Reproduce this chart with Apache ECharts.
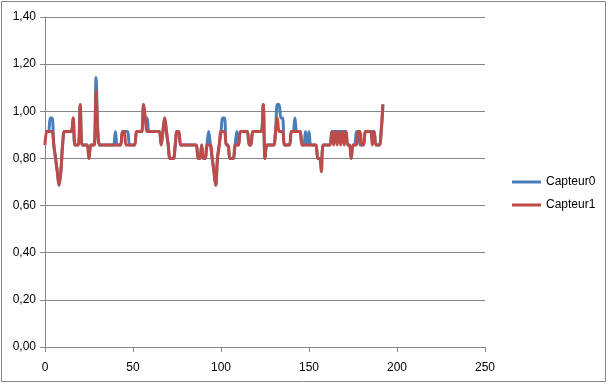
<!DOCTYPE html>
<html>
<head>
<meta charset="utf-8">
<script src="https://cdn.jsdelivr.net/npm/echarts@6/dist/echarts.min.js"></script>
<style>
html,body{margin:0;padding:0;background:#fff;}
#c{width:611px;height:388px;}
</style>
</head>
<body>
<div id="c"></div>
<script>
const seriesNames = ['Capteur0', 'Capteur1'];
const xTicks = [0, 50, 100, 150, 200, 250];
const yTicks = [0, 0.2, 0.4, 0.6, 0.8, 1.0, 1.2, 1.4];

const capteur0 = [
  .914,.914,.914,.971,.971,.857,.800,.743,.686,.743,
  .857,.914,.914,.914,.914,.914,.971,.857,.857,.857,
  1.029,.857,.857,.857,.857,.800,.857,.857,.857,1.143,
  .914,.857,.857,.857,.857,.857,.857,.857,.857,.857,
  .914,.857,.857,.857,.914,.914,.914,.914,.857,.857,
  .857,.857,.914,.914,.914,.914,1.029,.971,.971,.914,
  .914,.914,.914,.914,.914,.914,.857,.914,.971,.914,
  .857,.800,.800,.800,.857,.914,.914,.857,.857,.857,
  .857,.857,.857,.857,.857,.857,.857,.800,.800,.857,
  .800,.800,.857,.914,.857,.800,.743,.686,.800,.857,
  .914,.971,.971,.857,.857,.800,.800,.800,.857,.914,
  .857,.914,.914,.914,.914,.914,.857,.857,.914,.914,
  .914,.914,.914,.914,1.029,.800,.857,.857,.857,.857,
  .857,.914,1.029,1.029,.971,.971,.857,.857,.857,.857,
  .914,.914,.971,.914,.914,.914,.857,.857,.914,.857,
  .914,.857,.857,.857,.857,.800,.800,.800,.857,.857,
  .857,.857,.857,.914,.914,.914,.914,.914,.914,.914,
  .914,.914,.857,.857,.800,.857,.857,.914,.914,.857,
  .857,.857,.914,.914,.914,.914,.914,.914,.857,.857,
  .857,.914,1.029
];

const capteur1 = [
  .857,.914,.914,.914,.914,.857,.800,.743,.686,.743,
  .857,.914,.914,.914,.914,.914,.971,.857,.857,.857,
  1.029,.857,.857,.857,.857,.800,.857,.857,.857,1.086,
  .914,.857,.857,.857,.857,.857,.857,.857,.857,.857,
  .857,.857,.857,.857,.914,.914,.857,.857,.857,.857,
  .857,.857,.914,.914,.914,.914,1.029,.971,.914,.914,
  .914,.914,.914,.914,.914,.914,.857,.914,.971,.914,
  .857,.800,.800,.800,.857,.914,.914,.857,.857,.857,
  .857,.857,.857,.857,.857,.857,.857,.800,.800,.857,
  .800,.800,.857,.857,.857,.800,.743,.686,.800,.857,
  .914,.914,.914,.857,.857,.800,.800,.800,.857,.857,
  .857,.914,.914,.914,.914,.914,.857,.857,.914,.914,
  .914,.914,.914,.914,1.029,.800,.857,.857,.857,.857,
  .857,.914,.971,.914,.914,.914,.857,.857,.857,.857,
  .914,.914,.914,.914,.914,.914,.857,.857,.857,.857,
  .857,.857,.857,.857,.857,.800,.800,.743,.857,.857,
  .857,.857,.857,.914,.857,.914,.857,.914,.857,.914,
  .857,.914,.857,.857,.800,.857,.857,.857,.914,.914,
  .857,.857,.914,.914,.914,.914,.857,.914,.857,.857,
  .857,.914,1.029
];

const colors = ['#4A7EBB', '#BE4B48'];
const toPairs = arr => arr.map((v, i) => [i, v]);
const font = '"Liberation Sans", Arial, sans-serif';

const chart = echarts.init(document.getElementById('c'), null, {renderer: 'canvas'});
chart.setOption({
  animation: false,
  backgroundColor: '#fff',
  grid: {left: 45, right: 126, top: 17, bottom: 41, containLabel: false},
  xAxis: {
    type: 'value', min: xTicks[0], max: xTicks[xTicks.length - 1], interval: 50,
    axisLine: {show: true, lineStyle: {color: '#868686', width: 1}},
    axisTick: {show: true, length: 5, lineStyle: {color: '#868686'}},
    splitLine: {show: false},
    axisLabel: {color: '#000', fontFamily: font, fontSize: 12, margin: 15}
  },
  yAxis: {
    type: 'value', min: yTicks[0], max: yTicks[yTicks.length - 1], interval: 0.2,
    axisLine: {show: true, lineStyle: {color: '#868686', width: 1}},
    axisTick: {show: true, length: 5, lineStyle: {color: '#868686'}},
    splitLine: {show: true, lineStyle: {color: '#868686', width: 1}},
    axisLabel: {color: '#000', fontFamily: font, fontSize: 12, margin: 9,
      formatter: v => v.toFixed(2).replace('.', ',')}
  },
  legend: {
    orient: 'vertical', left: 507, top: 171,
    itemWidth: 29, itemHeight: 3, itemGap: 11, icon: 'rect',
    textStyle: {color: '#000', fontFamily: font, fontSize: 12},
    data: seriesNames
  },
  graphic: [{
    type: 'rect', shape: {x: 1.5, y: 1.5, width: 604, height: 380},
    style: {fill: 'none', stroke: '#868686', lineWidth: 1}, silent: true, z: -1
  }],
  series: [
    {name: seriesNames[0], type: 'line', data: toPairs(capteur0), smooth: 0.35,
     showSymbol: false, symbol: 'none', color: colors[0], lineStyle: {width: 3, color: colors[0]}},
    {name: seriesNames[1], type: 'line', data: toPairs(capteur1), smooth: 0.35,
     showSymbol: false, symbol: 'none', color: colors[1], lineStyle: {width: 3, color: colors[1]}}
  ]
});
</script>
</body>
</html>
